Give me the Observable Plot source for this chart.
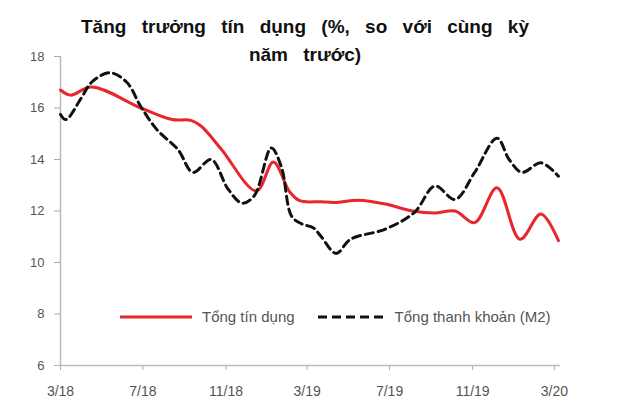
<!DOCTYPE html>
<html>
<head>
<meta charset="utf-8">
<script src="https://cdn.jsdelivr.net/npm/d3@7"></script>
<script src="https://cdn.jsdelivr.net/npm/@observablehq/plot@0.6"></script>
<style>
  html, body { margin: 0; padding: 0; background: #fff; }
  #wrap { position: relative; width: 640px; height: 413px; font-family: "Liberation Sans", Arial, sans-serif; }
  #title { position: absolute; top: 13px; left: 45px; width: 520px; text-align: center; font-weight: bold; font-size: 19px; line-height: 28px; word-spacing: 10px; color: #111; }
  #legend { position: absolute; top: 308px; left: 120px; font-size: 15px; color: #555; display: flex; align-items: center; }
  #legend .item { display: flex; align-items: center; }
  #legend svg { margin-right: 10px; }
</style>
</head>
<body>
<div id="wrap">
  <div id="chart"></div>
  <div id="title">Tăng trưởng tín dụng (%, so với cùng kỳ<br>năm trước)</div>
  <div id="legend"></div>
</div>
<script>
const creditDates = ["2018-03-01","2018-03-16","2018-04-16","2018-06-28","2018-08-13","2018-09-10","2018-09-25","2018-10-25","2018-12-16","2019-01-10","2019-02-03","2019-02-18","2019-03-22","2019-04-10","2019-05-16","2019-06-25","2019-08-04","2019-09-06","2019-10-06","2019-11-04","2019-12-07","2020-01-10","2020-02-10","2020-03-07"];
const creditValues = [16.7,16.5,16.82,16.0,15.55,15.52,15.3,14.4,12.78,13.9,12.75,12.4,12.36,12.33,12.42,12.27,12.0,11.92,12.0,11.55,12.9,10.9,11.88,10.85];

const m2Dates = ["2018-03-01","2018-03-09","2018-04-01","2018-04-16","2018-05-13","2018-06-07","2018-06-28","2018-07-22","2018-08-22","2018-09-13","2018-10-10","2018-11-04","2018-11-25","2018-12-13","2019-01-07","2019-01-22","2019-02-06","2019-02-21","2019-03-10","2019-03-22","2019-04-13","2019-05-04","2019-06-25","2019-08-07","2019-09-06","2019-10-06","2019-11-04","2019-12-07","2019-12-25","2020-01-13","2020-02-10","2020-03-07"];
const m2Values = [15.75,15.55,16.4,17.0,17.37,17.0,16.05,15.15,14.38,13.5,14.0,12.85,12.3,12.6,14.45,13.7,11.8,11.5,11.35,11.0,10.35,10.9,11.3,11.95,12.97,12.45,13.5,14.83,14.0,13.5,13.87,13.35];

const xTickDates = ["2018-03-01","2018-07-01","2018-11-01","2019-03-01","2019-07-01","2019-11-01","2020-03-01"];
const xTickLabels = ["3/18","7/18","11/18","3/19","7/19","11/19","3/20"];
const yTicks = [6, 8, 10, 12, 14, 16, 18];

const seriesNames = ["Tổng tín dụng", "Tổng thanh khoản (M2)"];
const seriesColors = ["#e8262b", "#111111"];

const credit = creditDates.map((d, i) => ({date: new Date(d), value: creditValues[i]}));
const m2 = m2Dates.map((d, i) => ({date: new Date(d), value: m2Values[i]}));
const tickDates = xTickDates.map(d => new Date(d));
const labelOf = new Map(tickDates.map((d, i) => [+d, xTickLabels[i]]));

const chart = Plot.plot({
  width: 640,
  height: 413,
  marginTop: 56,
  marginBottom: 48,
  marginLeft: 60,
  marginRight: 80,
  style: {fontFamily: "Liberation Sans, Arial, sans-serif", fontSize: "13px", color: "#555", background: "#fff"},
  x: {type: "utc", domain: [new Date("2018-03-01"), new Date("2020-03-10")]},
  y: {domain: [6, 18]},
  marks: [
    Plot.axisY({ticks: yTicks, tickSize: 6, tickPadding: 10, stroke: "#aaa", fill: "#555", label: null, fontSize: 13}),
    Plot.axisX({ticks: tickDates, tickSize: 5, tickPadding: 16, stroke: "#aaa", fill: "#555", label: null, fontSize: 14, tickFormat: d => labelOf.get(+d)}),
    Plot.ruleX([new Date("2018-03-01")], {stroke: "#bbb", strokeWidth: 1.5}),
    Plot.ruleY([6], {stroke: "#bbb", strokeWidth: 1.5}),
    Plot.line(credit, {x: "date", y: "value", stroke: seriesColors[0], strokeWidth: 3, curve: "catmull-rom"}),
    Plot.line(m2, {x: "date", y: "value", stroke: seriesColors[1], strokeWidth: 3, strokeDasharray: "8,5", curve: "catmull-rom"})
  ]
});
document.getElementById("chart").appendChild(chart);

const legend = document.getElementById("legend");
seriesNames.forEach((name, i) => {
  const item = document.createElement("div");
  item.className = "item";
  item.style.marginRight = i === 0 ? "23px" : "0";
  const w = i === 0 ? 72 : 67;
  const dash = i === 1 ? ' stroke-dasharray="9,5"' : '';
  item.innerHTML = `<svg width="${w}" height="8"><line x1="0" y1="4" x2="${w}" y2="4" stroke="${seriesColors[i]}" stroke-width="3"${dash}/></svg><span>${name}</span>`;
  legend.appendChild(item);
});
</script>
</body>
</html>
